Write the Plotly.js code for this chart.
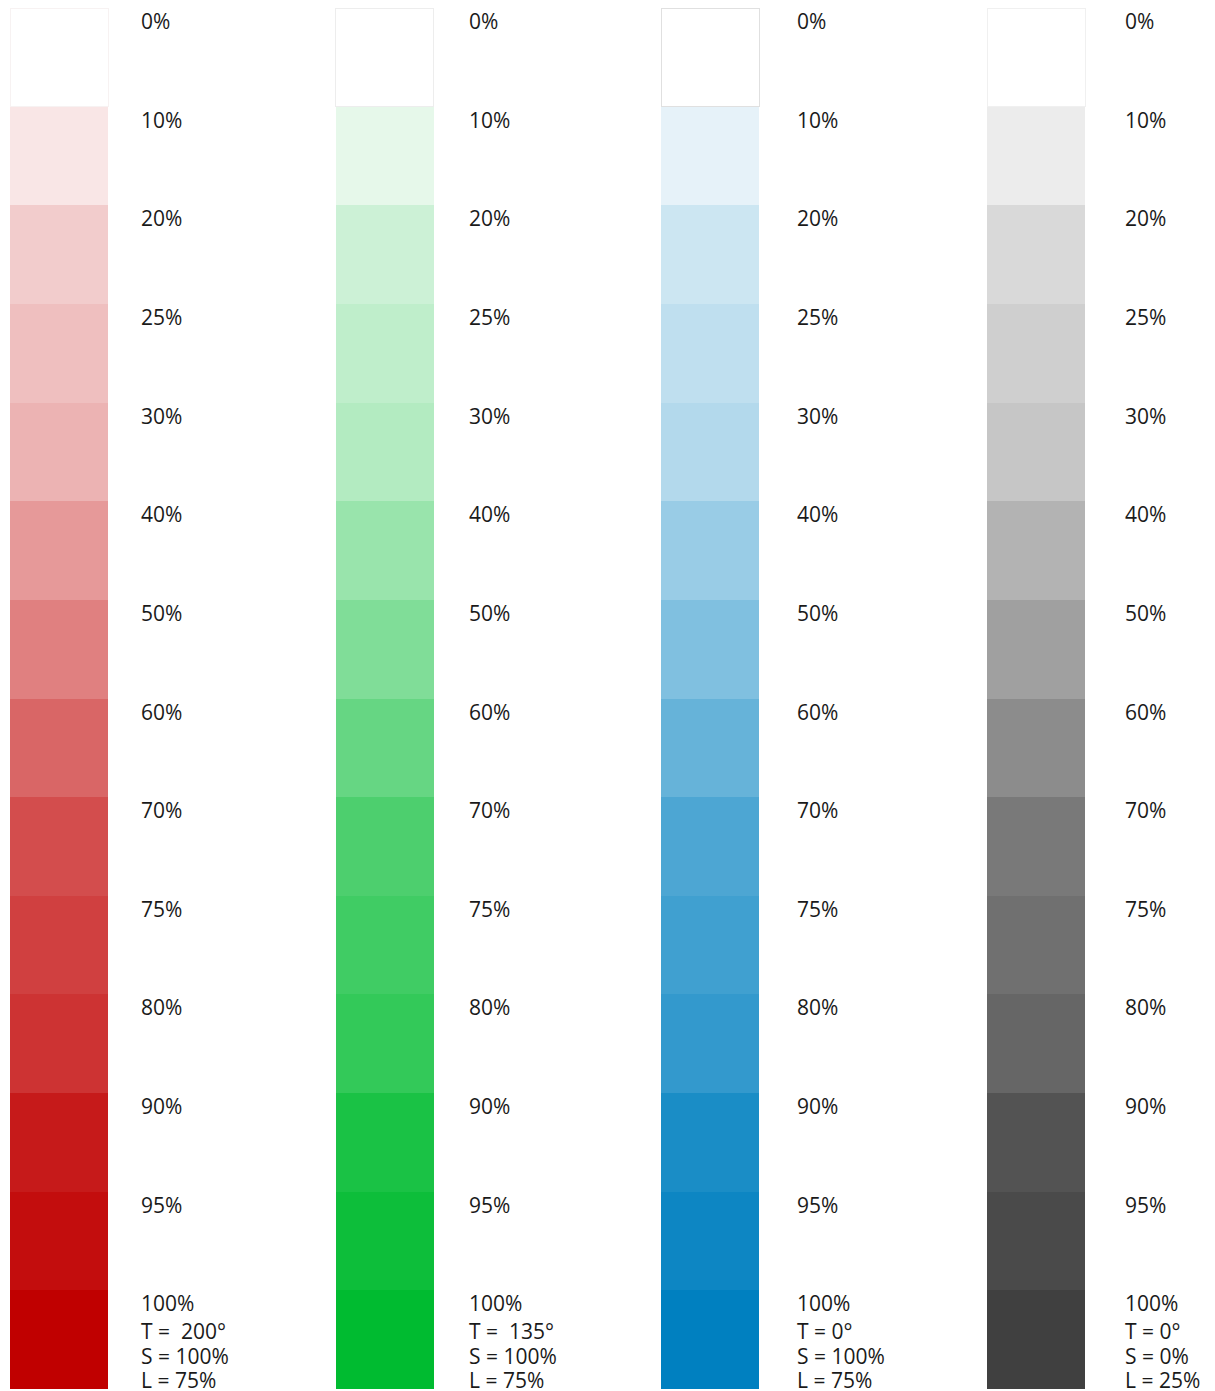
<!DOCTYPE html>
<html>
<head>
<meta charset="utf-8">
<script src="https://cdn.plot.ly/plotly-3.0.1.min.js"></script>
<style>
  html, body { margin: 0; padding: 0; background: #ffffff; }
  #chart { width: 1215px; height: 1391px; }
</style>
</head>
<body>
<div id="chart"></div>
<script>
// ---- data ----
const levels = ['0%', '10%', '20%', '25%', '30%', '40%', '50%', '60%', '70%', '75%', '80%', '90%', '95%', '100%'];
const columns = [0, 1, 2, 3];
const hueLabels = ['T =\u00a0 200°', 'T =\u00a0 135°', 'T = 0°', 'T = 0°'];
const satLabels = ['S = 100%', 'S = 100%', 'S = 100%', 'S = 0%'];
const lumLabels = ['L = 75%', 'L = 75%', 'L = 75%', 'L = 25%'];

const redShades   = ['#FFFFFF', '#F9E6E6', '#F2CCCC', '#EFBFBF', '#ECB3B3', '#E69999', '#E08080', '#D96666', '#D34D4D', '#D04040', '#CD3333', '#C61A1A', '#C30D0D', '#C00000'];
const greenShades = ['#FFFFFF', '#E6F8EA', '#CCF1D6', '#BFEECB', '#B3EBC1', '#99E4AC', '#80DD98', '#66D683', '#4DCF6E', '#40CC64', '#33C959', '#1AC245', '#0DBE3A', '#00BB30'];
const blueShades  = ['#FFFFFF', '#E6F2F9', '#CCE6F2', '#BFDFEF', '#B3D9EC', '#99CCE6', '#80C0E0', '#66B3D9', '#4DA6D3', '#40A0D0', '#3399CD', '#1A8DC6', '#0D86C3', '#0080C0'];
const grayShades  = ['#FFFFFF', '#ECECEC', '#D9D9D9', '#CFCFCF', '#C6C6C6', '#B3B3B3', '#A0A0A0', '#8C8C8C', '#797979', '#707070', '#666666', '#535353', '#4A4A4A', '#404040'];
const rowHeights = [1, 1, 1, 1, 1, 1, 1, 1, 1, 1, 1, 1, 1, 1];

// ---- traces ----
const shadeSets = [redShades, greenShades, blueShades, grayShades];
const traces = levels.map((lv, k) => {
  const t = {
    type: 'bar',
    x: columns,
    y: columns.map(() => rowHeights[k]),
    width: 0.301,
    marker: { color: shadeSets.map(s => s[k]), line: { width: 0 } },
    hoverinfo: 'skip',
    showlegend: false
  };
  if (k === 0) {
    t.marker.line = { width: 1, color: ['#F7F2F2', '#EDEDED', '#E0E0E0', '#F0F0F0'] };
  }
  return t;
});

// ---- labels ----
const font = { family: 'Open Sans, Noto Sans, sans-serif', size: 21, color: '#1a1a1a' };
const annotations = [];
const labelX = c => c + 0.246 + 0.0072 * c;
columns.forEach(c => {
  levels.forEach((lv, k) => {
    annotations.push({
      xref: 'x', yref: 'y', x: labelX(c), y: k,
      xanchor: 'left', yanchor: 'middle', yshift: -13,
      text: lv, showarrow: false, font: font
    });
  });
  const last = levels.length - 1;
  [[hueLabels[c], -41], [satLabels[c], -66], [lumLabels[c], -90]].forEach(([txt, sh]) => {
    annotations.push({
      xref: 'x', yref: 'y', x: labelX(c), y: last,
      xanchor: 'left', yanchor: 'middle', yshift: sh,
      text: txt, showarrow: false, font: font
    });
  });
});

const layout = {
  width: 1215, height: 1391,
  margin: { l: 0, r: 0, t: 8, b: 2, pad: 0 },
  paper_bgcolor: '#ffffff', plot_bgcolor: '#ffffff',
  barmode: 'stack', bargap: 0,
  showlegend: false, hovermode: false,
  xaxis: { range: [-0.1812, 3.5496], visible: false, fixedrange: true },
  yaxis: { range: [14, 0], visible: false, fixedrange: true },
  annotations: annotations
};

Plotly.newPlot('chart', traces, layout, { displayModeBar: false, staticPlot: true });
</script>
</body>
</html>
